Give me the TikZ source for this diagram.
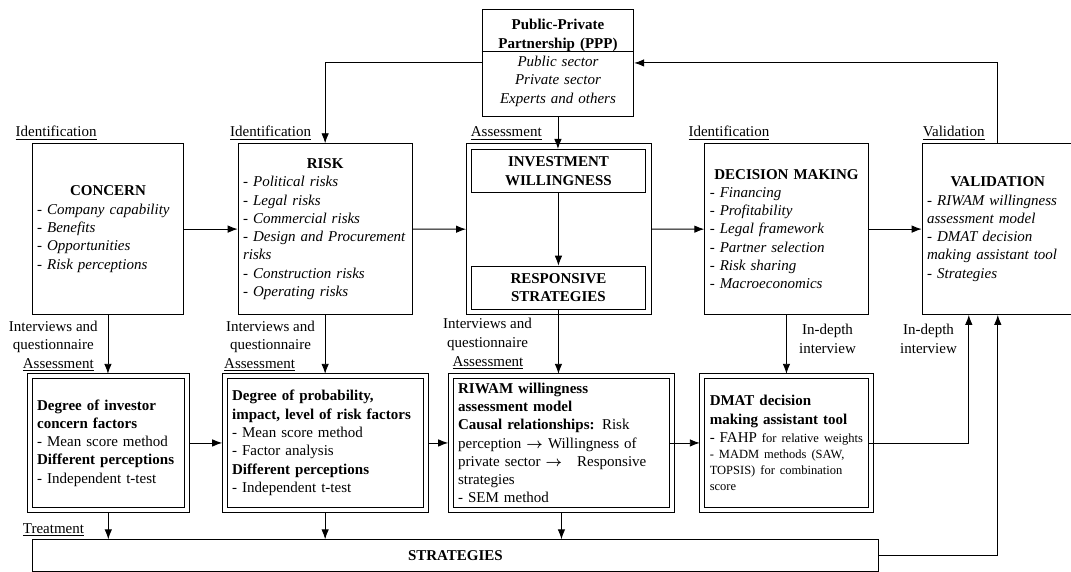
\documentclass[tikz,border=0pt]{standalone}
\usepackage{fontspec}
\setmainfont{Liberation Serif}
\usepackage{amsmath}
\usepackage{tikz}
\usetikzlibrary{arrows.meta, positioning}

\begin{document}
\fontsize{15}{18.3}\selectfont
\begin{tikzpicture}[x=1pt, y=-1pt]
        % Styles
        \tikzstyle{block} = [rectangle, draw, line width=0.9pt, inner xsep=5pt, inner ysep=1pt, align=left, anchor=north west]
        \tikzstyle{inbox} = [rectangle, draw, line width=0.9pt, align=center, font=\bfseries, inner sep=0pt, anchor=north west]
        \tikzstyle{stage} = [anchor=base west, inner sep=0pt]
        \tikzstyle{note} = [align=center, inner sep=0pt]
        \tikzstyle{line} = [draw, line width=0.9pt, -{Latex[length=10pt, width=7.5pt]}]

        \useasboundingbox (0,0) rectangle (1071,572);

        % Nodes
        \node [block, text width=141.6pt, minimum height=107pt, align=center] (ppp) at (481.7,9) {\textbf{Public-Private}\\ \textbf{Partnership (PPP)}\\ \textit{Public sector}\\ \textit{Private sector}\\ \textit{Experts and others}};
        \draw [line width=0.9pt] ([yshift=-42.7pt]ppp.north west) -- ([yshift=-42.7pt]ppp.north east);

        \node [block, text width=141.6pt, minimum height=170.7pt] (concern) at (31.7,143.3) {{\centering\textbf{CONCERN}\par}- \textit{Company capability}\\ - \textit{Benefits}\\ - \textit{Opportunities}\\ - \textit{Risk perceptions}};
        \node [block, text width=164pt, minimum height=170.7pt] (risk) at (237.7,143.3) {{\centering\textbf{RISK}\par}- \textit{Political risks}\\ - \textit{Legal risks}\\ - \textit{Commercial risks}\\ - \textit{Design and Procurement}\\ \textit{risks}\\ - \textit{Construction risks}\\ - \textit{Operating risks}};
        \node [block, minimum width=184.7pt, minimum height=171pt, inner sep=0pt] (invbox) at (466,143.3) {};
        \node [inbox, minimum width=174pt, minimum height=43.3pt] (inv) at (471,149) {INVESTMENT\\ WILLINGNESS};
        \node [inbox, minimum width=174pt, minimum height=43pt] (resp) at (471,265.7) {RESPONSIVE\\ STRATEGIES};
        \node [block, text width=153.4pt, minimum height=170.7pt] (decision) at (704.3,143.3) {{\centering\textbf{DECISION MAKING}\par}- \textit{Financing}\\ - \textit{Profitability}\\ - \textit{Legal framework}\\ - \textit{Partner selection}\\ - \textit{Risk sharing}\\ - \textit{Macroeconomics}};
        \node [block, text width=141.3pt, minimum height=170.7pt] (val) at (921.7,143.3) {{\centering\textbf{VALIDATION}\par}- \textit{RIWAM willingness}\\ \textit{assessment model}\\ - \textit{DMAT decision}\\ \textit{making assistant tool}\\ - \textit{Strategies}};

        \node [block, text width=142.3pt, minimum height=128.4pt] (cfactor) at (31.7,378.3) {\textbf{Degree of investor}\\ \textbf{concern factors}\\ - Mean score method\\ \textbf{Different perceptions}\\ - Independent t-test};
        \node [block, text width=186pt, minimum height=128.4pt] (rfactor) at (226.7,378.3) {\textbf{Degree of probability,}\\ \textbf{impact, level of risk factors}\\ - Mean score method\\ - Factor analysis\\ \textbf{Different perceptions}\\ - Independent t-test};
        \node [block, text width=206.6pt, minimum height=128.4pt] (riwam) at (452.7,378.3) {\textbf{RIWAM willingness}\\ \textbf{assessment model}\\ \textbf{Causal relationships:} Risk\\ perception $\boldsymbol{\rightarrow}$ Willingness of\\ private sector $\boldsymbol{\rightarrow}$\quad Responsive\\ strategies\\ - SEM method};
        \node [block, text width=153.4pt, minimum height=128.4pt] (dmat) at (704.3,378.3) {\textbf{DMAT decision}\\ \textbf{making assistant tool}\\ - FAHP {\fontsize{12.5}{15}\selectfont for relative weights}\par {\fontsize{12.5}{16}\selectfont - MADM methods (SAW,\\ TOPSIS) for combination\\ score\par}};
        % outer frames of the method boxes
        \foreach \n in {cfactor, rfactor, riwam, dmat}
          \draw [line width=0.8pt] ([shift={(-4.5pt,4.5pt)}]\n.north west) rectangle ([shift={(4.5pt,-4.5pt)}]\n.south east);
        \node [block, minimum width=846.6pt, minimum height=31.7pt, align=center, font=\bfseries] (strat) at (31.7,539.3) {STRATEGIES};

        % Labels
        \node [stage] (id1) at (15.5,137) {\underline{Identification}};
        \node [stage] (id2) at (230,137) {\underline{Identification}};
        \node [stage] (as0) at (470.7,137) {\underline{Assessment}};
        \node [stage] (id3) at (688.3,137) {\underline{Identification}};
        \node [stage] (vl) at (922.7,137) {\underline{Validation}};
        \node [note] (iq1) at (53.3,337) {Interviews and\\ questionnaire};
        \node [note] (iq2) at (270.5,337) {Interviews and\\ questionnaire};
        \node [note] (iq3) at (487.5,334.5) {Interviews and\\ questionnaire};
        \node [stage] (as1) at (22.7,368) {\underline{Assessment}};
        \node [stage] (as2) at (224,368) {\underline{Assessment}};
        \node [stage] (as3) at (452.3,366.5) {\underline{Assessment}};
        \node [note] (in1) at (827.5,339) {In-depth\\ interview};
        \node [note] (in2) at (928.5,339) {In-depth\\ interview};
        \node [stage] (tr) at (22.7,533) {\underline{Treatment}};

        % Paths
        \path [line] (ppp) -| (risk);
        \path [line] (ppp.south) -- (ppp.south |- inv.north);
        \path [line] (val) |- (ppp);
        \path [line] (concern) -- (risk);
        \path [line] (risk) -- (invbox);
        \path [line] (invbox) -- (decision);
        \path [line] (decision) -- (val);
        \path [line] (inv) -- (resp);
        \path [line, shorten >=4.5pt] (concern.south) -- (concern.south |- cfactor.north);
        \path [line, shorten >=4.5pt] (risk.south) -- (risk.south |- rfactor.north);
        \path [line, shorten >=4.5pt] (resp.south) -- (resp.south |- riwam.north);
        \path [line, shorten >=4.5pt] (decision.south) -- (decision.south |- dmat.north);
        \path [line, shorten <=4.5pt, shorten >=4.5pt] (cfactor) -- (rfactor);
        \path [line, shorten <=4.5pt, shorten >=4.5pt] (rfactor) -- (riwam);
        \path [line, shorten >=4.5pt] (riwam) -- (dmat);
        \path [line] (dmat) -| ([xshift=-29pt]val.south);
        \path [line] (strat) -| (val.south);
        \path [line, shorten <=4.5pt] (cfactor.south) -- (cfactor.south |- strat.north);
        \path [line, shorten <=4.5pt] (rfactor.south) -- (rfactor.south |- strat.north);
        \path [line, shorten <=4.5pt] (riwam.south) -- (riwam.south |- strat.north);
\end{tikzpicture}
\end{document}
